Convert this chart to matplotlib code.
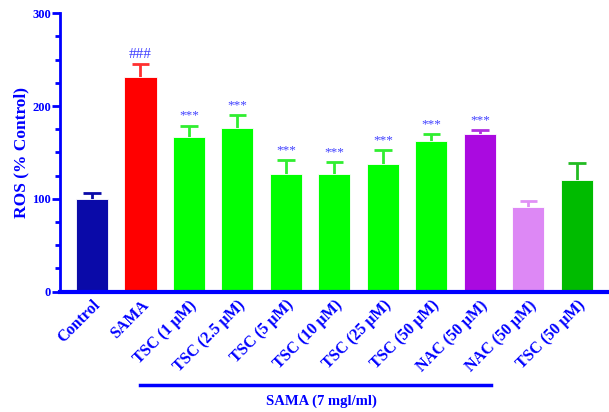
import matplotlib
matplotlib.use("Agg")
from matplotlib import pyplot as plt
from matplotlib.ticker import MultipleLocator

groups = ["Control", "SAMA", "TSC (1 \u03bcM)", "TSC (2.5 \u03bcM)", "TSC (5 \u03bcM)",
          "TSC (10 \u03bcM)", "TSC (25 \u03bcM)", "TSC (50 \u03bcM)", "NAC (50 \u03bcM)",
          "NAC (50 \u03bcM)", "TSC (50 \u03bcM)"]
ros = [100, 231, 167, 176, 127, 127, 138, 162, 170, 91, 120]
sem = [6, 14, 12, 14, 15, 13, 15, 8, 4, 7, 19]
marks = ["", "###", "***", "***", "***", "***", "***", "***", "***", "", ""]
colors = ["#0a0aa8", "#ff0000", "#00ff00", "#00ff00", "#00ff00", "#00ff00",
          "#00ff00", "#00ff00", "#aa0ae0", "#dd88f5", "#00bb00"]
err_colors = ["#0a0aa8", "#ff3030", "#30ee30", "#30ee30", "#30ee30", "#30ee30",
              "#30ee30", "#30ee30", "#b030e0", "#e090f5", "#22bb22"]

blue = "#0000ff"
plt.rcParams['font.family'] = ['Liberation Serif', 'DejaVu Serif']
plt.rcParams['font.weight'] = 'bold'

fig = plt.figure(figsize=(6.09, 4.12), dpi=100)
ax = fig.add_axes([0.0985, 0.292, 0.9015, 0.676])

x = list(range(len(groups)))
ax.bar(x, ros, width=0.66, color=colors, edgecolor="white", linewidth=0.6, zorder=2)
for i in x:
    top = ros[i] + sem[i]
    # upper error bar only
    ax.vlines(i, ros[i], top, color=err_colors[i], lw=2, zorder=1)
    ax.hlines(top, i - 0.18, i + 0.18, color=err_colors[i], lw=2, zorder=1)
    if marks[i]:
        fs = 11 if marks[i] == "###" else 9.5
        ax.text(i, top + 4, marks[i], ha="center", va="bottom",
                color="#3f3fff", fontsize=fs, fontweight="normal")

ax.set_xlim(-0.66, 10.66)
ax.set_ylim(0, 300)
ax.yaxis.set_major_locator(MultipleLocator(100))
ax.yaxis.set_minor_locator(MultipleLocator(25))
for s in ["top", "right"]:
    ax.spines[s].set_visible(False)
ax.spines["left"].set_color(blue)
ax.spines["left"].set_linewidth(2)
ax.spines["bottom"].set_color(blue)
ax.spines["bottom"].set_linewidth(3)
ax.tick_params(axis="y", which="major", length=6, width=2, color=blue,
               labelcolor=blue, labelsize=9, pad=0.5)
ax.tick_params(axis="y", which="minor", length=3.5, width=2, color=blue)
ax.tick_params(axis="x", length=0, pad=4)
ax.set_xticks(x)
ax.set_xticklabels(groups, rotation=45, ha="right", rotation_mode="anchor",
                   color=blue, fontsize=11.5, fontweight="bold")
for lab in ax.get_yticklabels():
    lab.set_fontweight("bold")
ax.set_ylabel("ROS (% Control)", color=blue, fontsize=12.5, fontweight="bold", labelpad=2)

# group line under the SAMA-treated columns
ax.plot([1.0, 8.23], [-100.5, -100.5], color=blue, lw=2.5, clip_on=False)
ax.text(4.74, -117.5, "SAMA (7 mgl/ml)", ha="center", va="center", color=blue,
        fontsize=10.5, fontweight="bold")

fig.savefig("out.png", dpi=100)
